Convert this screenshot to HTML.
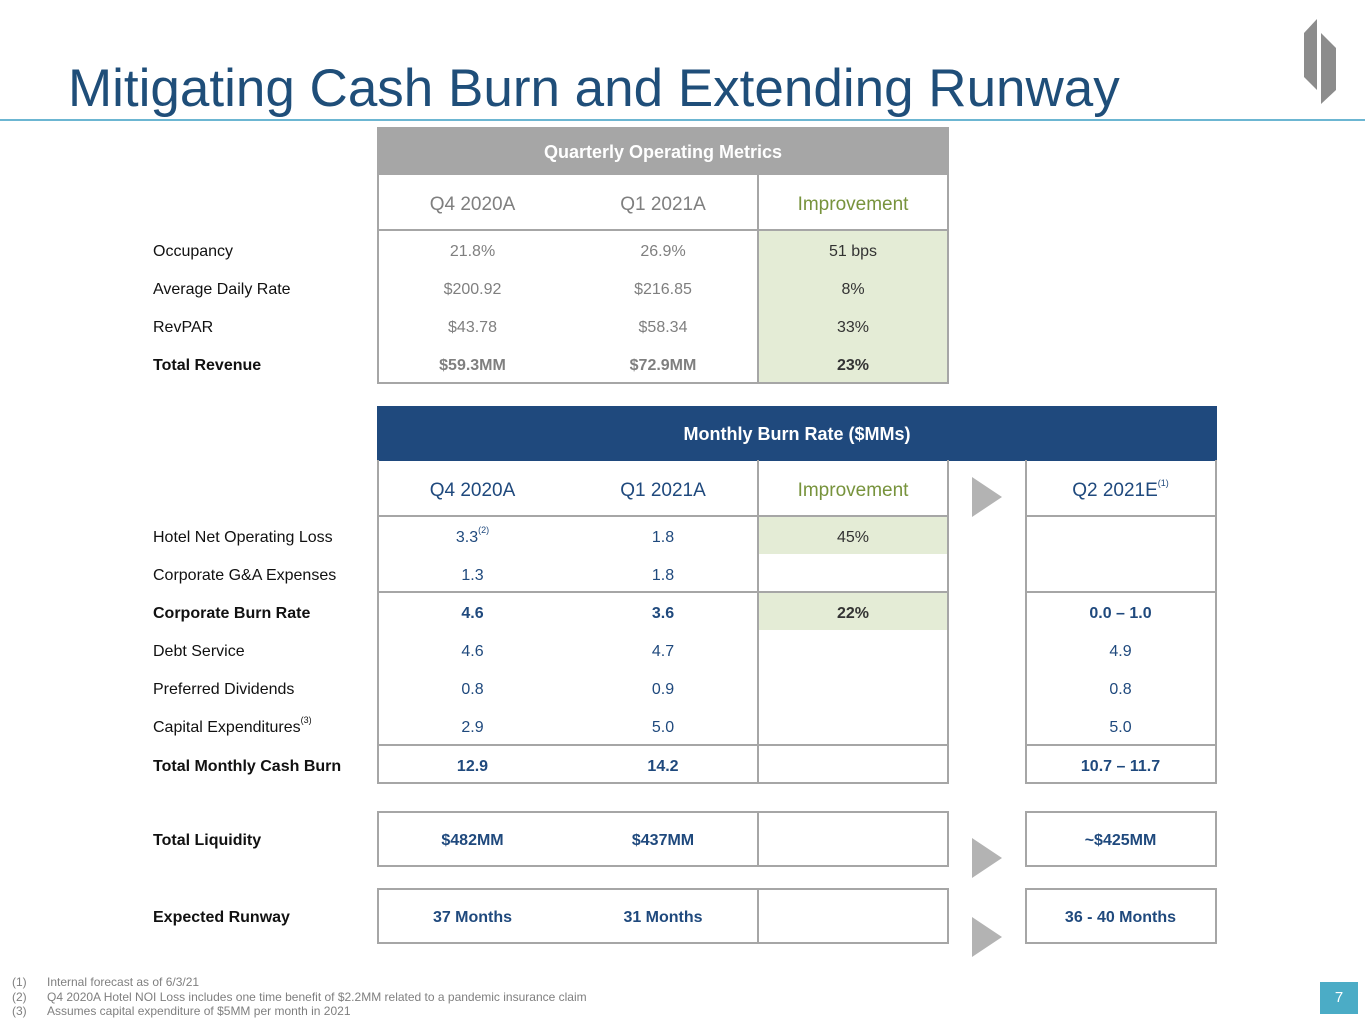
<!DOCTYPE html>
<html><head><meta charset="utf-8"><style>
body{margin:0;width:1365px;height:1024px;position:relative;background:#fff;font-family:"Liberation Sans",sans-serif;overflow:hidden}
div{position:absolute;box-sizing:border-box}
.c{text-align:center;font-size:16px;line-height:38px;height:38px;margin-top:2px}
.l{left:153px;font-size:16px;line-height:38px;height:38px;color:#111;margin-top:2px}
.b{font-weight:bold}
.g{color:#7f7f7f}
.n{color:#1f497d}
.k{color:#333}
.bx{border:2px solid #a6a6a6}
.hl{height:2px;background:#a6a6a6}
.vl{width:2px;background:#a6a6a6}
.gr{background:#e4ecd6}
sup{font-size:9px;vertical-align:top;position:relative;top:-8px}
.c1{left:377px;width:191px}.c2{left:568px;width:190px}.c3{left:758px;width:190px}.c4{left:1025px;width:191px}
.tri{width:0;height:0;border-top:20px solid transparent;border-bottom:20px solid transparent;border-left:30px solid #b3b3b3}
.fn{position:relative;height:14.5px;white-space:nowrap}
.fn span{position:absolute;left:35px;top:0;white-space:nowrap}
</style></head><body>
<div style="left:68px;top:58px;font-size:53px;color:#1f4e79;line-height:62px">Mitigating Cash Burn and Extending Runway</div>
<div style="left:0;top:119px;width:1365px;height:2px;background:#6cb6d2"></div>
<svg style="position:absolute;left:1300px;top:15px" width="45" height="95"><polygon points="4,18 17,4 17,75 4,62" fill="#8c8c8c"/><polygon points="21,18 36,33 36,75 21,89" fill="#8c8c8c"/></svg>

<!-- Quarterly table -->
<div style="left:377px;top:127px;width:572px;height:48px;background:#a6a6a6;color:#fff;font-weight:bold;font-size:18px;text-align:center;line-height:50px">Quarterly Operating Metrics</div>
<div class="gr" style="left:758px;top:230px;width:190px;height:152px"></div>
<div class="bx" style="left:377px;top:175px;width:572px;height:209px;border-top:none"></div>
<div class="hl" style="left:377px;top:229px;width:572px"></div>
<div class="vl" style="left:757px;top:175px;height:207px"></div>
<div class="c c1 g" style="top:184px;font-size:19px">Q4 2020A</div>
<div class="c c2 g" style="top:184px;font-size:19px">Q1 2021A</div>
<div class="c c3" style="top:184px;font-size:19px;color:#77933c">Improvement</div>

<div class="l" style="top:231px">Occupancy</div>
<div class="c c1 g" style="top:231px">21.8%</div>
<div class="c c2 g" style="top:231px">26.9%</div>
<div class="c c3 k" style="top:231px">51 bps</div>
<div class="l" style="top:269px">Average Daily Rate</div>
<div class="c c1 g" style="top:269px">$200.92</div>
<div class="c c2 g" style="top:269px">$216.85</div>
<div class="c c3 k" style="top:269px">8%</div>
<div class="l" style="top:307px">RevPAR</div>
<div class="c c1 g" style="top:307px">$43.78</div>
<div class="c c2 g" style="top:307px">$58.34</div>
<div class="c c3 k" style="top:307px">33%</div>
<div class="l b" style="top:345px">Total Revenue</div>
<div class="c c1 g b" style="top:345px">$59.3MM</div>
<div class="c c2 g b" style="top:345px">$72.9MM</div>
<div class="c c3 k b" style="top:345px">23%</div>

<!-- Monthly burn table -->
<div style="left:377px;top:406px;width:840px;height:55px;background:#1f497d;color:#fff;font-weight:bold;font-size:18px;text-align:center;line-height:57px">Monthly Burn Rate ($MMs)</div>
<div class="gr" style="left:758px;top:516px;width:190px;height:38px"></div>
<div class="gr" style="left:758px;top:592px;width:190px;height:38px"></div>
<div class="bx" style="left:377px;top:460px;width:572px;height:324px;border-top:none"></div>
<div class="vl" style="left:757px;top:460px;height:322px"></div>
<div class="hl" style="left:377px;top:515px;width:572px"></div>
<div class="hl" style="left:377px;top:591px;width:572px"></div>
<div class="hl" style="left:377px;top:744px;width:572px"></div>
<div class="bx" style="left:1025px;top:460px;width:192px;height:324px;border-top:none"></div>
<div class="hl" style="left:1025px;top:515px;width:192px"></div>
<div class="hl" style="left:1025px;top:591px;width:192px"></div>
<div class="hl" style="left:1025px;top:744px;width:192px"></div>
<div class="tri" style="left:972px;top:477px"></div>

<div class="c c1 n" style="top:470px;font-size:19px">Q4 2020A</div>
<div class="c c2 n" style="top:470px;font-size:19px">Q1 2021A</div>
<div class="c c3" style="top:470px;font-size:19px;color:#77933c">Improvement</div>
<div class="c c4 n" style="top:470px;font-size:19px">Q2 2021E<sup>(1)</sup></div>

<div class="l" style="top:517px">Hotel Net Operating Loss</div>
<div class="c c1 n" style="top:517px">3.3<sup>(2)</sup></div>
<div class="c c2 n" style="top:517px">1.8</div>
<div class="c c3 k" style="top:517px">45%</div>
<div class="l" style="top:555px">Corporate G&amp;A Expenses</div>
<div class="c c1 n" style="top:555px">1.3</div>
<div class="c c2 n" style="top:555px">1.8</div>
<div class="l b" style="top:593px">Corporate Burn Rate</div>
<div class="c c1 n b" style="top:593px">4.6</div>
<div class="c c2 n b" style="top:593px">3.6</div>
<div class="c c3 k b" style="top:593px">22%</div>
<div class="c c4 n b" style="top:593px">0.0 – 1.0</div>
<div class="l" style="top:631px">Debt Service</div>
<div class="c c1 n" style="top:631px">4.6</div>
<div class="c c2 n" style="top:631px">4.7</div>
<div class="c c4 n" style="top:631px">4.9</div>
<div class="l" style="top:669px">Preferred Dividends</div>
<div class="c c1 n" style="top:669px">0.8</div>
<div class="c c2 n" style="top:669px">0.9</div>
<div class="c c4 n" style="top:669px">0.8</div>
<div class="l" style="top:707px">Capital Expenditures<sup>(3)</sup></div>
<div class="c c1 n" style="top:707px">2.9</div>
<div class="c c2 n" style="top:707px">5.0</div>
<div class="c c4 n" style="top:707px">5.0</div>
<div class="l b" style="top:746px">Total Monthly Cash Burn</div>
<div class="c c1 n b" style="top:746px">12.9</div>
<div class="c c2 n b" style="top:746px">14.2</div>
<div class="c c4 n b" style="top:746px">10.7 – 11.7</div>

<!-- Liquidity -->
<div class="bx" style="left:377px;top:811px;width:572px;height:56px"></div>
<div class="vl" style="left:757px;top:811px;height:56px"></div>
<div class="bx" style="left:1025px;top:811px;width:192px;height:56px"></div>
<div class="tri" style="left:972px;top:838px"></div>
<div class="l b" style="top:820px">Total Liquidity</div>
<div class="c c1 n b" style="top:820px">$482MM</div>
<div class="c c2 n b" style="top:820px">$437MM</div>
<div class="c c4 n b" style="top:820px">~$425MM</div>

<div class="bx" style="left:377px;top:888px;width:572px;height:56px"></div>
<div class="vl" style="left:757px;top:888px;height:56px"></div>
<div class="bx" style="left:1025px;top:888px;width:192px;height:56px"></div>
<div class="tri" style="left:972px;top:917px"></div>
<div class="l b" style="top:897px">Expected Runway</div>
<div class="c c1 n b" style="top:897px">37 Months</div>
<div class="c c2 n b" style="top:897px">31 Months</div>
<div class="c c4 n b" style="top:897px">36 - 40 Months</div>

<!-- Footnotes -->
<div style="left:12px;top:975px;width:700px;font-size:12px;line-height:14.5px;color:#7f7f7f">
<div class="fn">(1)<span>Internal forecast as of 6/3/21</span></div>
<div class="fn">(2)<span>Q4 2020A Hotel NOI Loss includes one time benefit of $2.2MM related to a pandemic insurance claim</span></div>
<div class="fn">(3)<span>Assumes capital expenditure of $5MM per month in 2021</span></div>
</div>
<div style="left:1320px;top:982px;width:38px;height:32px;background:#4bacc6;color:#fff;font-size:15px;text-align:center;line-height:32px">7</div>
</body></html>
